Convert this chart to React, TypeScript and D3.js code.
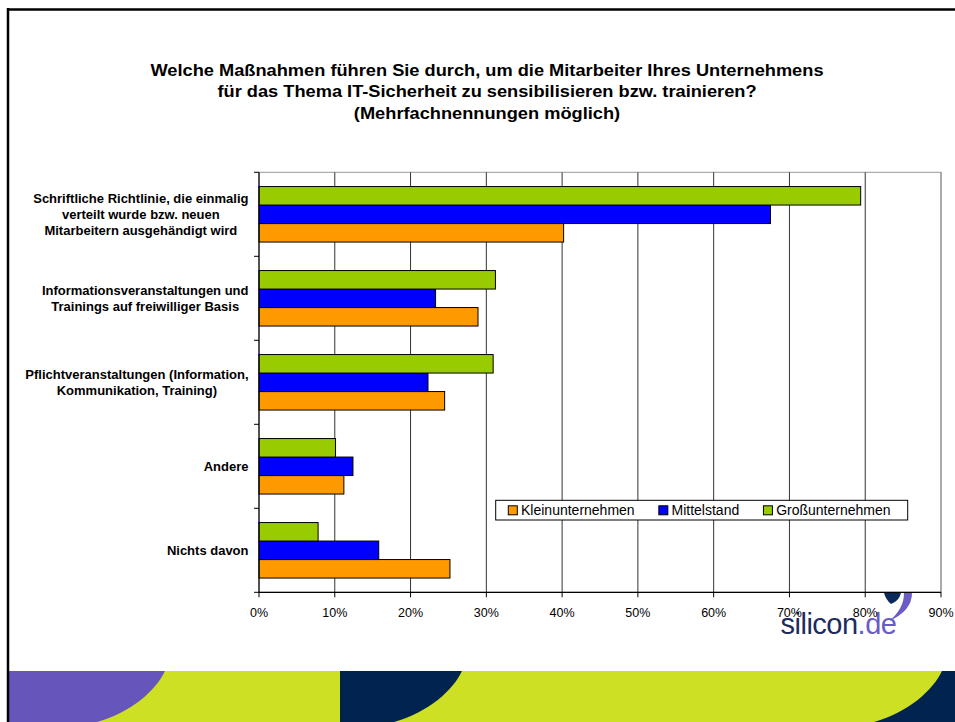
import React from "react";
import * as d3 from "d3";

const titleLines = [
  "Welche Maßnahmen führen Sie durch, um die Mitarbeiter Ihres Unternehmens",
  "für das Thema IT-Sicherheit zu sensibilisieren bzw. trainieren?",
  "(Mehrfachnennungen möglich)",
];

const categories = ["c1", "c2", "c3", "c4", "c5"];
const categoryLabels = [
  ["Schriftliche Richtlinie, die einmalig", "verteilt wurde bzw. neuen", "Mitarbeitern ausgehändigt wird"],
  ["Informationsveranstaltungen und", "Trainings auf freiwilliger Basis"],
  ["Pflichtveranstaltungen (Information,", "Kommunikation, Training)"],
  ["Andere"],
  ["Nichts davon"],
];

const seriesNames = ["Kleinunternehmen", "Mittelstand", "Großunternehmen"];
const seriesColors = ["#FF9900", "#0000FF", "#99CC00"];
const kleinValues = [40.2, 28.9, 24.5, 11.2, 25.2];
const mittelValues = [67.5, 23.3, 22.3, 12.4, 15.8];
const grossValues = [79.4, 31.2, 30.9, 10.1, 7.8];
const seriesValues = [kleinValues, mittelValues, grossValues];

const xTicks = [0, 10, 20, 30, 40, 50, 60, 70, 80, 90];

const FONT = "'Liberation Sans', Arial, sans-serif";

let measureCtx: CanvasRenderingContext2D | null = null;
function textWidth(s: string, font: string) {
  if (!measureCtx) measureCtx = document.createElement("canvas").getContext("2d");
  measureCtx!.font = font;
  return measureCtx!.measureText(s).width;
}

function decoShape(off: number) {
  return `M ${9 + off - 165 + 165} 671 H ${165 + off} C ${156 + off} 690, ${132 + off} 712, ${97 + off} 722 H ${off + 9 - 165 + 165} Z`;
}

export default function App() {
  const W = 955, H = 722;
  const x = d3.scaleLinear().domain([0, 90]).range([259, 941]);
  const y = d3.scaleBand<string>().domain(categories).range([172.3, 592.3]).paddingInner(0);
  const groupH = 55.5;
  const inner = d3.scaleBand<number>().domain([2, 1, 0]).range([0, groupH]);
  const groupOff = (y.bandwidth() - groupH) / 2;
  const bottom = 592.3, top = 172.3;

  const labelFont = `bold 13px ${FONT}`;
  const labelRight = 248.5;
  const lineH = 16.3;

  // legend layout
  const legFont = `14px ${FONT}`;
  let lx = 508.3;
  const legItems = seriesNames.map((n, i) => {
    const item = { n, i, sx: lx, tx: lx + 12.7 };
    lx = item.tx + textWidth(n, legFont) + 24.2;
    return item;
  });

  const boundaries = categories.map((c) => y(c)!).concat([bottom]);

  return (
    <svg width={W} height={H} style={{ position: "absolute", left: 0, top: 0, background: "#fff" }} fontFamily={FONT}>
      <rect x={0} y={0} width={W} height={H} fill="#fff" />
      {/* frame */}
      <line x1={7} x2={955} y1={9.5} y2={9.5} stroke="#000" strokeWidth={2.5} />
      {/* bottom decoration */}
      <rect x={9} y={671} width={946} height={51} fill="#CDE024" />
      <path d={decoShape(0)} fill="#6655BB" />
      <path d={`M 340 671 H 462 C 453 690, 429 712, 394 722 H 340 Z`} fill="#00244F" />
      <path d={`M 955 671 H 942 C 933 690, 909 712, 874 722 H 955 Z`} fill="#00244F" />
      <line x1={8} x2={8} y1={8} y2={722} stroke="#000" strokeWidth={2.5} />

      {/* title */}
      <g transform="translate(487,0) scale(1.14,1)">
        {titleLines.map((t, i) => (
          <text key={i} x={0} y={76 + i * 21.4} textAnchor="middle" fontWeight="bold" fontSize={16} fill="#000">
            {t}
          </text>
        ))}
      </g>

      {/* logo */}
      <g>
        <path d="M 884 593 L 901 593 Q 899 601 891 604 Q 886 600 884 593 Z" fill="#0B2A5C" />
        <path d="M 904 593 L 912 593 Q 912 611 889 621 Q 904 609 904 593 Z" fill="#6A5CC4" />
        <text x={780.5} y={634} fontSize={29} letterSpacing={-0.5} fill="#1D2B5E">
          silicon<tspan fill="#6A5CC4">.de</tspan>
        </text>
      </g>

      {/* plot area */}
      <rect x={x(0)} y={top} width={x(90) - x(0)} height={bottom - top} fill="#fff" fillOpacity={0} stroke="#999" strokeWidth={1} />
      {xTicks.slice(1).map((t) => (
        <line key={t} x1={x(t)} x2={x(t)} y1={top} y2={bottom} stroke={t === 90 ? "#888" : "#333"} strokeWidth={1} />
      ))}

      {/* bars */}
      {categories.map((c, ci) =>
        seriesValues.map((vals, si) => (
          <rect
            key={c + si}
            x={x(0)}
            y={y(c)! + groupOff + inner(si)!}
            width={x(vals[ci]) - x(0)}
            height={inner.bandwidth()}
            fill={seriesColors[si]}
            stroke="#000"
            strokeWidth={1}
          />
        ))
      )}

      {/* axes */}
      <line x1={x(0)} x2={x(0)} y1={top} y2={bottom} stroke="#000" strokeWidth={1.2} />
      {boundaries.map((b, i) => (
        <line key={i} x1={x(0) - 5} x2={x(0)} y1={b} y2={b} stroke="#000" strokeWidth={1} />
      ))}
      <line x1={x(0)} x2={x(90)} y1={bottom} y2={bottom} stroke="#000" strokeWidth={1.2} />
      {xTicks.map((t) => (
        <g key={t}>
          <line x1={x(t)} x2={x(t)} y1={bottom} y2={bottom + 5} stroke="#000" strokeWidth={1} />
          <text x={x(t)} y={617} textAnchor="middle" fontSize={12.5} fill="#000">
            {t}%
          </text>
        </g>
      ))}

      {/* category labels */}
      {categories.map((c, ci) => {
        const lines = categoryLabels[ci];
        const maxW = d3.max(lines, (l) => textWidth(l, labelFont))!;
        const cx = labelRight - maxW / 2;
        const cy = y(c)! + y.bandwidth() / 2;
        return lines.map((l, li) => (
          <text
            key={c + li}
            x={cx}
            y={cy + (li - (lines.length - 1) / 2) * lineH}
            dy="0.36em"
            textAnchor="middle"
            fontWeight="bold"
            fontSize={13}
            fill="#000"
          >
            {l}
          </text>
        ));
      })}

      {/* legend */}
      <rect x={495.7} y={500.3} width={412} height={19.7} fill="#fff" stroke="#000" strokeWidth={1} />
      {legItems.map((it) => (
        <g key={it.n}>
          <rect x={it.sx} y={505.8} width={9} height={9} fill={seriesColors[it.i]} stroke="#000" strokeWidth={1} />
          <text x={it.tx} y={515} fontSize={14} fill="#000">
            {it.n}
          </text>
        </g>
      ))}
    </svg>
  );
}
